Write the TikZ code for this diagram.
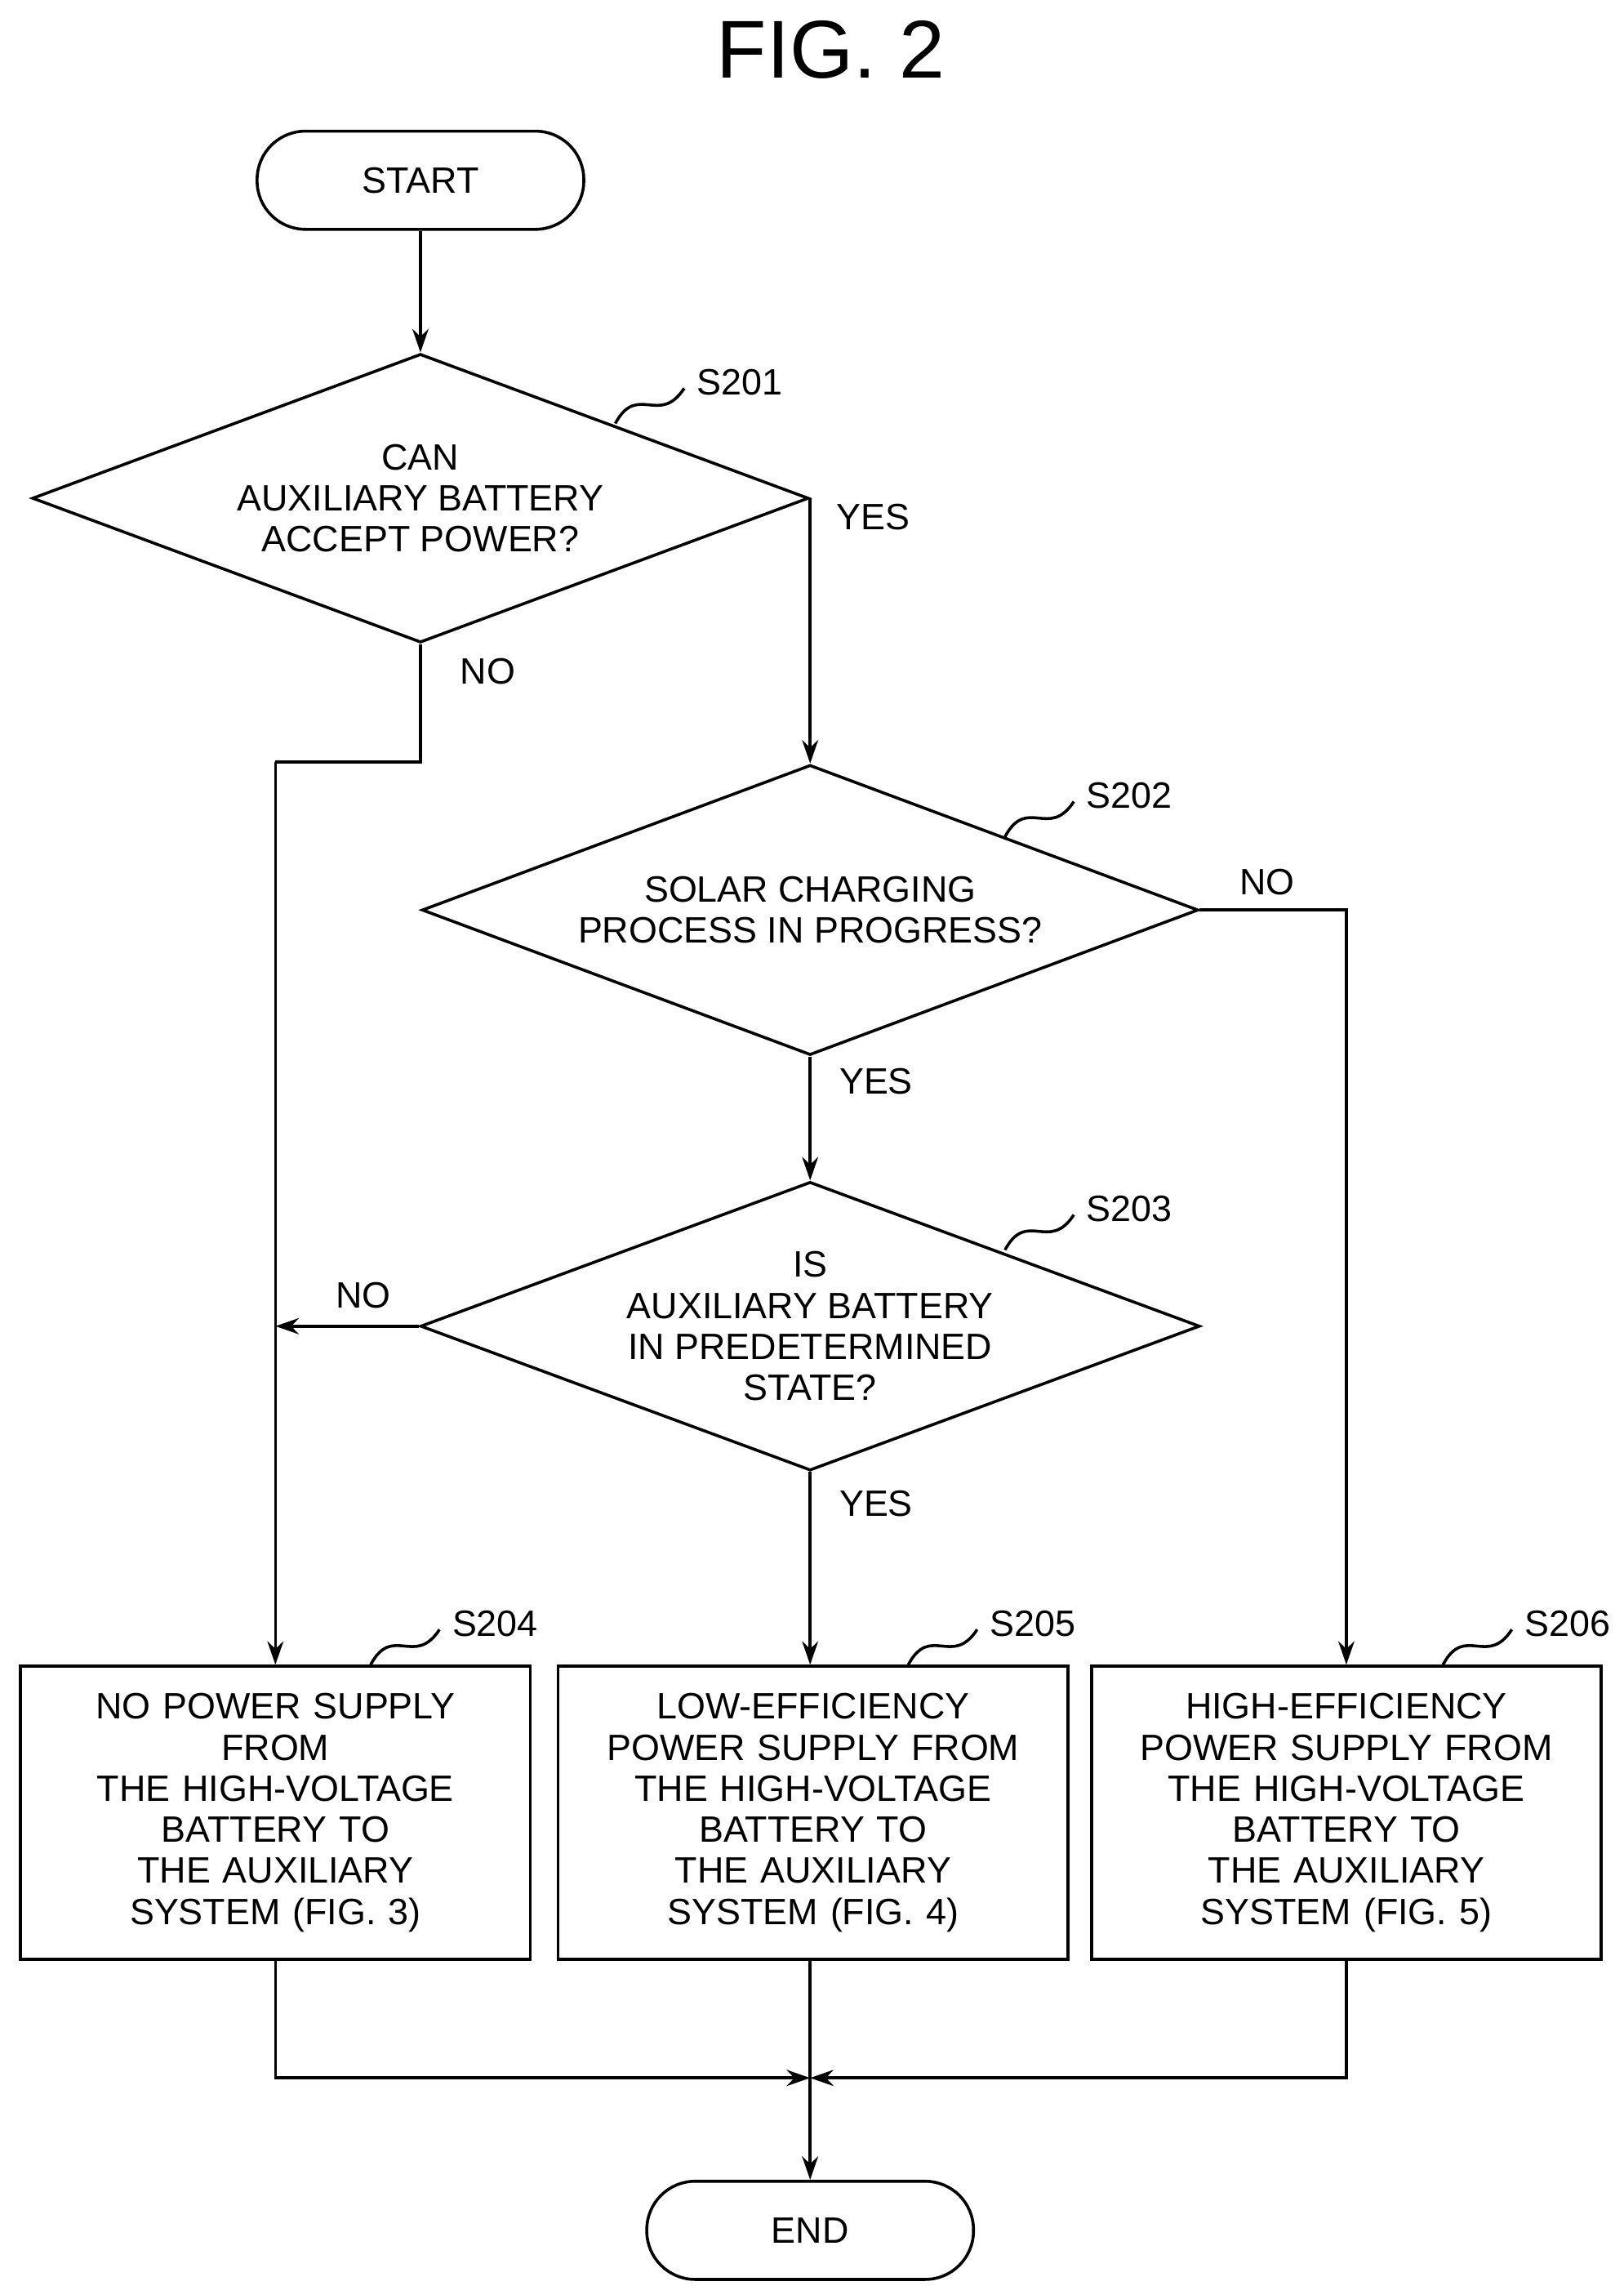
\documentclass[tikz,border=0pt]{standalone}
\usepackage{fontspec}
\setmainfont{Liberation Sans}
\usetikzlibrary{calc}
\usetikzlibrary{positioning}
\usetikzlibrary{shapes.geometric}
\usetikzlibrary{arrows.meta}
\tikzstyle{term} = [draw, rounded corners=33pt, minimum width=223pt, minimum height=67pt, line width=2pt]
\tikzstyle{decision} = [draw, diamond, aspect=2.7, inner sep=0pt, line width=2pt, align=center]
\tikzstyle{proc} = [draw, minimum width=348pt, minimum height=200pt, line width=2pt, align=center, text width=330pt]
\tikzstyle{flow} = [line width=2pt, -{Stealth[length=16pt,width=11pt]}]
\tikzstyle{lbl} = [font=\fontsize{25}{28}\selectfont]
\tikzstyle{squig} = [line width=2pt]
\begin{document}
\begin{tikzpicture}[x=1pt,y=-1pt, every node/.style={font=\fontsize{25}{28}\selectfont}]
    \useasboundingbox (0,0) rectangle (1108,1560);
    \node[font=\fontsize{56}{60}\selectfont] (title) at (567,34) {FIG. 2};

    \node[term] (start) at (287,123) {START};
    \node[decision, minimum width=530pt, minimum height=197pt] (s201) at (287,340) {CAN\\AUXILIARY BATTERY\\ACCEPT POWER?};
    \node[decision, minimum width=530pt, minimum height=198pt] (s202) at (553,621) {SOLAR CHARGING\\PROCESS IN PROGRESS?};
    \node[decision, minimum width=532pt, minimum height=197pt] (s203) at (553,905) {IS\\AUXILIARY BATTERY\\IN PREDETERMINED\\STATE?};
    \node[proc] (s204) at (188,1237) {NO POWER SUPPLY\\FROM\\THE HIGH-VOLTAGE\\BATTERY TO\\THE AUXILIARY\\SYSTEM (FIG. 3)};
    \node[proc] (s205) at (555,1237) {LOW-EFFICIENCY\\POWER SUPPLY FROM\\THE HIGH-VOLTAGE\\BATTERY TO\\THE AUXILIARY\\SYSTEM (FIG. 4)};
    \node[proc] (s206) at (919,1237) {HIGH-EFFICIENCY\\POWER SUPPLY FROM\\THE HIGH-VOLTAGE\\BATTERY TO\\THE AUXILIARY\\SYSTEM (FIG. 5)};
    \node[term] (end) at (553,1522) {END};

    \coordinate (jn) at (553,1418);
    \coordinate (left_turn) at (188,520);
    \coordinate (no_join) at (188,905);

    % connectors
    \draw[flow] (start) -- (s201.north);
    \draw[flow] (s201.east) -- (s202.north -| s201.east);
    \draw[line width=2pt] (s201.south) |- (left_turn);
    \draw[flow] (left_turn) -- (s204.north);
    \draw[flow] (s202.east) -| (s206.north);
    \draw[flow] (s202.south) -- (s203.north);
    \draw[flow] (s203.west) -- (no_join);
    \draw[flow] (s203.south) -- (s205.north -| s203.south);
    \draw[flow] (s204.south) |- (jn);
    \draw[flow] (s206.south) |- (jn);
    \draw[flow] (s205.south -| jn) -- (end);

    % branch labels
    \node[lbl] (y1) at (596,353) {YES};
    \node[lbl] (n1) at (333,458) {NO};
    \node[lbl] (n2) at (865,602) {NO};
    \node[lbl] (y2) at (598,738) {YES};
    \node[lbl] (n3) at (248,884) {NO};
    \node[lbl] (y3) at (598,1026) {YES};

    % step numbers
    \foreach \nm/\px/\py in {S201/505/261, S202/771/543, S203/771/825, S204/338/1108, S205/705/1108, S206/1070/1108} {
        \node[lbl] (lab\nm) at (\px,\py) {\nm};
        \draw[squig] ($(\px,\py)+(-85,28)$) .. controls ($(\px,\py)+(-70,0)$) and ($(\px,\py)+(-55,30)$) .. ($(\px,\py)+(-38,4)$);
    }
\end{tikzpicture}
\end{document}
